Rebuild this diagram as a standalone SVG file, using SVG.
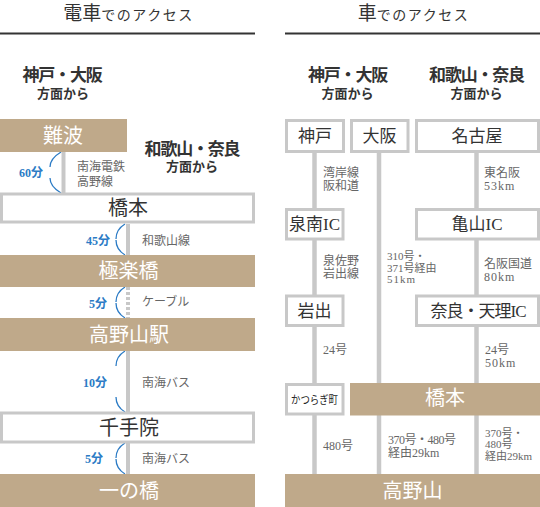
<svg xmlns="http://www.w3.org/2000/svg" width="540" height="507" viewBox="0 0 540 507">
<style>
text{font-family:"Liberation Serif","Noto Sans CJK JP",serif}
.tan{fill:#bfa98a}
.wbox{fill:#fff;stroke:#c8c8c8;stroke-width:3}
.wt{fill:#fff;font-size:20px;text-anchor:middle}
.dt{fill:#333;font-size:20px;text-anchor:middle}
.rt{fill:#333;font-size:17px;text-anchor:middle}
.hd{fill:#333;font-size:17px;font-weight:bold;text-anchor:middle;letter-spacing:-1.2px}
.sub{fill:#333;font-size:13px;font-weight:bold;text-anchor:middle}
.lbl{fill:#666;font-size:12px}
.sm{font-size:11px}
.min{fill:#2b7bc5;font-size:12px;font-weight:bold;text-anchor:end}
.ln{stroke:#c8c8c8;stroke-width:4;fill:none}
.lnr{stroke:#c8c8c8;stroke-width:4.5;fill:none}
.arc{stroke:#2b7bc5;stroke-width:1.3;fill:none}
</style>

<g id="titles">
<text x="128.5" y="20" fill="#333" text-anchor="middle"><tspan font-size="19">電車</tspan><tspan font-size="14" letter-spacing="1.5">でのアクセス</tspan></text>
<rect x="0" y="32.5" width="255" height="2" fill="#333"/>
<text x="413.5" y="20" fill="#333" text-anchor="middle"><tspan font-size="19">車</tspan><tspan font-size="14" letter-spacing="1.5">でのアクセス</tspan></text>
<rect x="285" y="32.5" width="255" height="2" fill="#333"/>
</g>

<g id="headings">
<text class="hd" x="62" y="81">神戸・大阪</text>
<text class="sub" x="63" y="98">方面から</text>
<text class="hd" x="192" y="155">和歌山・奈良</text>
<text class="sub" x="192" y="171">方面から</text>
<text class="hd" x="347.5" y="81">神戸・大阪</text>
<text class="sub" x="347.5" y="98">方面から</text>
<text class="hd" x="476.5" y="81">和歌山・奈良</text>
<text class="sub" x="476.5" y="98">方面から</text>
</g>

<g id="connectors">
<line class="ln" x1="63.5" y1="152" x2="63.5" y2="193"/>
<line class="ln" x1="128" y1="224" x2="128" y2="255"/>
<line class="ln" x1="128" y1="287" x2="128" y2="318" stroke-dasharray="3 2"/>
<line class="ln" x1="128" y1="351" x2="128" y2="412"/>
<line class="ln" x1="128" y1="443" x2="128" y2="474"/>
<line class="lnr" x1="314.5" y1="153" x2="314.5" y2="208"/>
<line class="lnr" x1="314.5" y1="240" x2="314.5" y2="295"/>
<line class="lnr" x1="314.5" y1="327" x2="314.5" y2="383"/>
<line class="lnr" x1="314.5" y1="415" x2="314.5" y2="474"/>
<line class="lnr" x1="379" y1="153" x2="379" y2="383"/>
<line class="lnr" x1="379" y1="415" x2="379" y2="474"/>
<line class="lnr" x1="476.5" y1="153" x2="476.5" y2="208"/>
<line class="lnr" x1="476.5" y1="240" x2="476.5" y2="295"/>
<line class="lnr" x1="476.5" y1="327" x2="476.5" y2="383"/>
<line class="lnr" x1="476.5" y1="415" x2="476.5" y2="474"/>
<path class="arc" d="M61,152 C56,155 50,160 50,167 M50,178 C50,185 56,190 61,193"/>
<path class="arc" d="M125,224 C120,227 116,232 116,239 M116,240 C116,247 120,252 125,255"/>
<path class="arc" d="M125,287 C120,290 116,295 116,302 M116,303 C116,310 120,315 125,318"/>
<path class="arc" d="M125,351 C120,354 116,359 116,366 M116,397 C116,404 120,409 125,412"/>
<path class="arc" d="M125,443 C120,446 116,451 116,458 M116,459 C116,466 120,471 125,474"/>
</g>

<g id="labels">
<text class="min" x="43" y="177">60分</text>
<text class="lbl" x="77" y="171">南海電鉄</text>
<text class="lbl" x="77" y="186">高野線</text>
<text class="min" x="110" y="245">45分</text>
<text class="lbl" x="142" y="245">和歌山線</text>
<text class="min" x="107" y="308">5分</text>
<text class="lbl" x="142" y="306">ケーブル</text>
<text class="min" x="107" y="387">10分</text>
<text class="lbl" x="142" y="387">南海バス</text>
<text class="min" x="103" y="463">5分</text>
<text class="lbl" x="142" y="463">南海バス</text>

<text class="lbl" x="323" y="177">湾岸線</text>
<text class="lbl" x="323" y="190">阪和道</text>
<text class="lbl" x="484" y="177">東名阪</text>
<text class="lbl" x="484" y="190" letter-spacing="1">53km</text>
<text class="lbl" x="323" y="265">泉佐野</text>
<text class="lbl" x="323" y="278">岩出線</text>
<text class="lbl sm" x="387" y="260">310号・</text>
<text class="lbl sm" x="387" y="271.5">371号経由</text>
<text class="lbl sm" x="387" y="283" letter-spacing="1">51km</text>
<text class="lbl" x="484" y="268">名阪国道</text>
<text class="lbl" x="484" y="281" letter-spacing="1">80km</text>
<text class="lbl" x="323" y="354">24号</text>
<text class="lbl" x="485" y="353.5">24号</text>
<text class="lbl" x="485" y="367" letter-spacing="1">50km</text>
<text class="lbl" x="323" y="450">480号</text>
<text class="lbl" x="388" y="444" letter-spacing="-0.5">370号・480号</text>
<text class="lbl" x="388" y="457">経由29km</text>
<text class="lbl sm" x="485" y="436.5">370号・</text>
<text class="lbl sm" x="485" y="448">480号</text>
<text class="lbl sm" x="485" y="459.5">経由29km</text>
</g>

<g id="namba"><rect class="tan" x="0" y="119" width="127" height="33"/><text class="wt" x="63" y="142.5">難波</text></g>
<g id="hashimoto-rail"><rect class="wbox" x="1.5" y="194" width="252" height="28"/><text class="dt" x="128" y="215">橋本</text></g>
<g id="gokurakubashi"><rect class="tan" x="0" y="255" width="255" height="32"/><text class="wt" x="128.5" y="278">極楽橋</text></g>
<g id="koyasan-station"><rect class="tan" x="0" y="318" width="255" height="33"/><text class="wt" x="129" y="341.5">高野山駅</text></g>
<g id="senjuin"><rect class="wbox" x="1.5" y="413" width="252" height="29"/><text class="dt" x="129" y="434.5">千手院</text></g>
<g id="ichinohashi"><rect class="tan" x="0" y="474" width="255" height="33"/><text class="wt" x="129" y="497.5">一の橋</text></g>

<g id="kobe"><rect class="wbox" x="286.5" y="120.5" width="57" height="31"/><text class="rt" x="315" y="142">神戸</text></g>
<g id="osaka"><rect class="wbox" x="351.5" y="120.5" width="56.5" height="31"/><text class="rt" x="379.5" y="142">大阪</text></g>
<g id="nagoya"><rect class="wbox" x="416.5" y="120.5" width="122" height="31"/><text class="rt" x="477" y="142">名古屋</text></g>
<g id="sennan-ic"><rect class="wbox" x="286.5" y="209.5" width="56.5" height="29.5"/><text class="rt" x="314.5" y="230">泉南IC</text></g>
<g id="kameyama-ic"><rect class="wbox" x="416.5" y="209.5" width="122" height="29.5"/><text class="rt" x="477" y="230">亀山IC</text></g>
<g id="iwade"><rect class="wbox" x="286.5" y="296" width="56.5" height="29.5"/><text class="rt" x="314.5" y="317">岩出</text></g>
<g id="nara-tenri-ic"><rect class="wbox" x="416.5" y="296" width="122" height="29.5"/><text class="rt" x="478" y="317" font-size="16.5" letter-spacing="-1">奈良・天理IC</text></g>
<g id="katsuragi"><rect class="wbox" x="286.5" y="384.5" width="56.5" height="29.5"/><text x="314.5" y="404" fill="#222" font-size="11" text-anchor="middle" textLength="47" lengthAdjust="spacingAndGlyphs">かつらぎ町</text></g>
<g id="hashimoto-car"><rect class="tan" x="350" y="383" width="190" height="32.5"/><text class="wt" x="445" y="405" font-size="17">橋本</text></g>
<g id="koyasan"><rect class="tan" x="285" y="474" width="255" height="33"/><text class="wt" x="412.5" y="497.5">高野山</text></g>
</svg>
